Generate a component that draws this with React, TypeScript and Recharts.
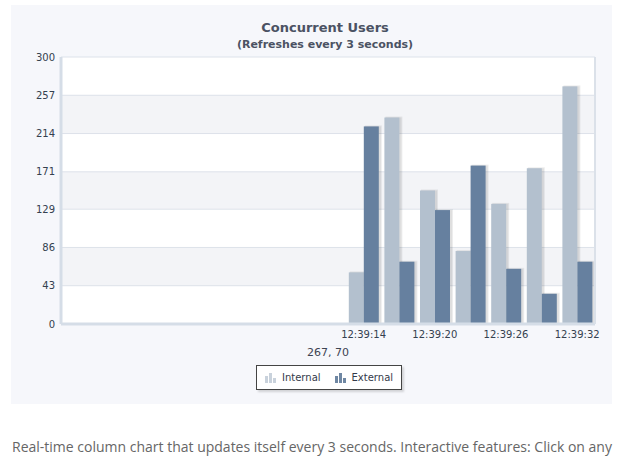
import { BarChart, Bar, XAxis, YAxis, CartesianGrid } from "recharts";

// 3-second slots; only the last seven have arrived so far
const times = ["", "", "", "", "", "", "", "", "12:39:14", "12:39:17", "12:39:20", "12:39:23", "12:39:26", "12:39:29", "12:39:32"];
const internalUsers = [null, null, null, null, null, null, null, null, 58, 232, 150, 82, 135, 175, 267];
const externalUsers = [null, null, null, null, null, null, null, null, 222, 70, 128, 178, 62, 34, 70];
const shownTicks = ["12:39:14", "12:39:20", "12:39:26", "12:39:32"];
const yTicks = [0, 43, 86, 129, 171, 214, 257, 300];

const INTERNAL = "#b3c0ce";
const EXTERNAL = "#66809f";
const FONT = "'DejaVu Sans', Verdana, sans-serif";

const data = times.map((t, i) => ({
  slot: i,
  time: t,
  internal: internalUsers[i],
  external: externalUsers[i],
}));

const lastInternal = internalUsers[internalUsers.length - 1];
const lastExternal = externalUsers[externalUsers.length - 1];

// bar with a soft shadow on the right
function ShadowBar(props: any) {
  const { x, y, width, height, fill } = props;
  if (!height || height <= 0) return null;
  return (
    <g>
      <rect x={x + 1} y={y - 1} width={width + 2} height={height + 1} fill="rgba(0,0,0,0.07)" />
      <rect x={x + 1} y={y} width={width + 1} height={height} fill="rgba(0,0,0,0.06)" />
      <rect x={x} y={y} width={width} height={height} fill={fill} />
    </g>
  );
}

function LegendIcon({ color }: { color: string }) {
  return (
    <svg width={11} height={11} style={{ marginRight: 6 }}>
      <rect x={0} y={4} width={3} height={7} fill={color} />
      <rect x={4} y={1} width={3} height={10} fill={color} />
      <rect x={8} y={6} width={3} height={5} fill={color} />
    </svg>
  );
}

function ChartLegend() {
  const item = { display: "flex", alignItems: "center", marginRight: 14 } as const;
  return (
    <div
      style={{
        position: "absolute",
        left: 245,
        top: 360,
        display: "flex",
        alignItems: "center",
        background: "#fff",
        border: "1px solid #444",
        boxShadow: "2px 2px 2px rgba(0,0,0,0.15)",
        padding: "0 8px",
        height: 23,
        fontFamily: FONT,
        fontSize: 10,
        color: "#333a4a",
      }}
    >
      <div style={item}>
        <LegendIcon color="#c9d2dc" />
        Internal
      </div>
      <div style={{ ...item, marginRight: 0 }}>
        <LegendIcon color="#6f87a3" />
        External
      </div>
    </div>
  );
}

export default function App() {
  return (
    <div>
      <div
        style={{
          position: "absolute",
          left: 11,
          top: 5,
          width: 601,
          height: 399,
          background: "#f6f7fb",
        }}
      >
        <div
          style={{
            position: "absolute",
            left: 0,
            width: 628,
            top: 15,
            textAlign: "center",
            fontFamily: FONT,
            fontWeight: "bold",
            fontSize: 13,
            color: "#4b5263",
            lineHeight: "16px",
          }}
        >
          Concurrent Users
        </div>
        <div
          style={{
            position: "absolute",
            left: 0,
            width: 628,
            top: 33,
            textAlign: "center",
            fontFamily: FONT,
            fontWeight: "bold",
            fontSize: 11,
            color: "#4b5263",
            lineHeight: "14px",
          }}
        >
          (Refreshes every 3 seconds)
        </div>
        <BarChart
          width={601}
          height={399}
          data={data}
          margin={{ top: 52, right: 16, left: 0, bottom: 58 }}
          barGap={0}
          barSize={15}
        >
          <CartesianGrid
            vertical={false}
            stroke="#dde2ea"
            horizontalFill={["#ffffff", "#f3f4f7"]}
            fillOpacity={1}
          />
          <XAxis
            dataKey="slot"
            type="category"
            interval={0}
            height={22}
            tickLine={false}
            tickSize={5}
            tickMargin={2}
            axisLine={{ stroke: "#d5dde7", strokeWidth: 3 }}
            tick={{ fill: "#34414f", fontSize: 10, fontFamily: FONT }}
            tickFormatter={(i: number) => (shownTicks.includes(times[i]) ? times[i] : "")}
            label={{
              value: `${lastInternal}, ${lastExternal}`,
              position: "bottom",
              offset: 2,
              fill: "#3d4452",
              fontSize: 11,
              fontFamily: FONT,
            }}
          />
          <YAxis
            width={50}
            domain={[0, 300]}
            ticks={yTicks}
            interval={0}
            tickLine={false}
            tickSize={4}
            tickMargin={2}
            axisLine={{ stroke: "#d5dde7", strokeWidth: 3 }}
            tick={{ fill: "#34414f", fontSize: 10, fontFamily: FONT }}
          />
          <YAxis
            yAxisId="r"
            orientation="right"
            width={1}
            domain={[0, 300]}
            tick={false}
            tickLine={false}
            axisLine={{ stroke: "#dbe1e9", strokeWidth: 2 }}
          />
          <Bar dataKey="internal" name="Internal" fill={INTERNAL} shape={<ShadowBar />} isAnimationActive={false} />
          <Bar dataKey="external" name="External" fill={EXTERNAL} shape={<ShadowBar />} isAnimationActive={false} />
        </BarChart>
        <ChartLegend />
      </div>
      <div
        style={{
          position: "absolute",
          left: 12,
          top: 437,
          whiteSpace: "nowrap",
          fontFamily: "'Open Sans', sans-serif",
          fontSize: 14,
          lineHeight: "20px",
          color: "#666",
        }}
      >
        Real-time column chart that updates itself every 3 seconds. Interactive features: Click on any
      </div>
    </div>
  );
}
